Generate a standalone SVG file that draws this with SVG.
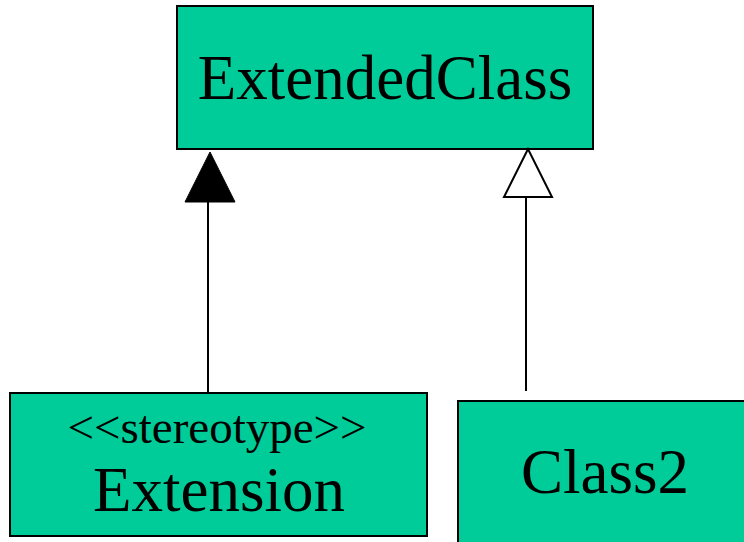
<svg xmlns="http://www.w3.org/2000/svg" width="744" height="542" viewBox="0 0 744 542">
  <style>
    .cls { fill: #00CC99; stroke: #000; stroke-width: 2; }
    .lbl { font-family: "Liberation Serif", "Times New Roman", serif; fill: #000; text-anchor: middle; }
    .big { font-size: 63px; }
    .small { font-size: 47px; }
    .edge { stroke: #000; stroke-width: 2; fill: none; }
  </style>
  <rect width="744" height="542" fill="#fff"/>

  <g id="ExtendedClass">
    <rect class="cls" x="177" y="6" width="416" height="143"/>
    <text class="lbl big" x="385" y="99">ExtendedClass</text>
  </g>

  <g id="Extension">
    <rect class="cls" x="10" y="393" width="417" height="143"/>
    <text class="lbl small" x="217" y="443">&lt;&lt;stereotype&gt;&gt;</text>
    <text class="lbl big" x="219" y="511">Extension</text>
  </g>

  <g id="Class2">
    <rect class="cls" x="458" y="401" width="300" height="160"/>
    <text class="lbl big" x="605" y="493">Class2</text>
  </g>

  <g id="connectors">
    <!-- Extension to ExtendedClass: filled triangle head -->
    <line class="edge" x1="208" y1="393" x2="208" y2="201"/>
    <polygon points="210,152 185,202 235,202" fill="#000" stroke="#000" stroke-width="1"/>
    <!-- Class2 generalisation: hollow triangle head -->
    <line class="edge" x1="526" y1="391" x2="526" y2="197"/>
    <polygon points="528,149 504,197 552,197" fill="#fff" stroke="#000" stroke-width="2"/>
  </g>
</svg>
